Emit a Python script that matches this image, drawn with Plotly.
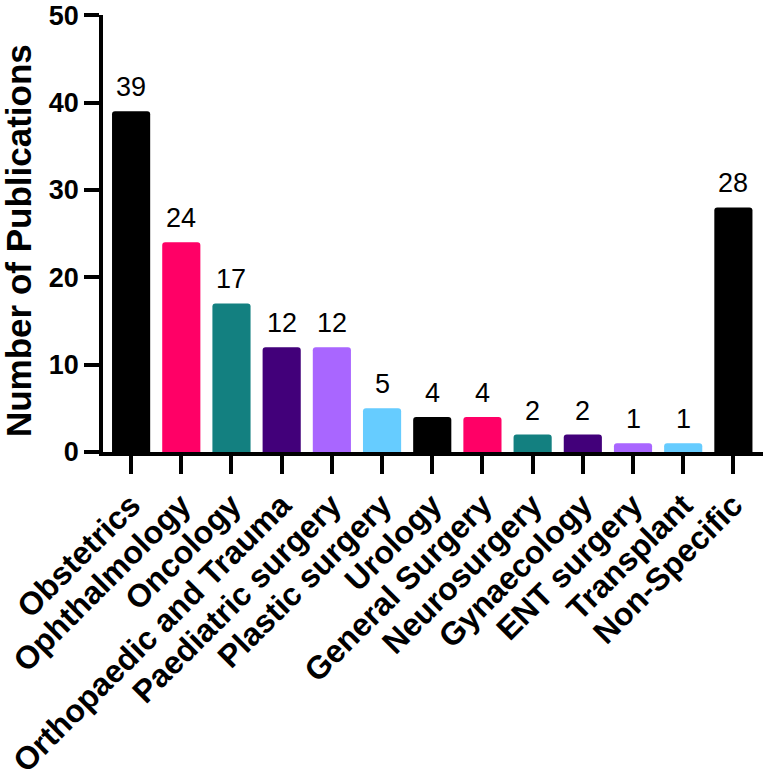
import plotly.graph_objects as go

categories = ["Obstetrics", "Ophthalmology", "Oncology", "Orthopaedic and Trauma",
              "Paediatric surgery", "Plastic surgery", "Urology", "General Surgery",
              "Neurosurgery", "Gynaecology", "ENT surgery", "Transplant", "Non-Specific"]
values = [39, 24, 17, 12, 12, 5, 4, 4, 2, 2, 1, 1, 28]
colors = ["#000000", "#FF0066", "#138080", "#42007A", "#A966FF", "#66CCFF",
          "#000000", "#FF0066", "#138080", "#42007A", "#A966FF", "#66CCFF", "#000000"]
y_ticks = [0, 10, 20, 30, 40, 50]
y_title = "Number of Publications"

FONT = "Arial, 'Liberation Sans', sans-serif"

fig = go.Figure()
fig.add_trace(go.Bar(
    x=list(range(len(categories))), y=values,
    marker=dict(color=colors, line=dict(width=0), cornerradius=3),
    width=0.76,
))

for i, v in enumerate(values):
    fig.add_annotation(x=i, y=v, text=str(v), showarrow=False, yanchor="bottom",
                       yshift=7, font=dict(family=FONT, size=27, color="black"))

# y-axis title as rotated annotation
fig.add_annotation(xref="paper", yref="paper", x=-0.1288, y=0.485, text=f"<b>{y_title}</b>",
                   textangle=-90, showarrow=False, xanchor="center", yanchor="middle",
                   font=dict(family=FONT, size=35, color="black"))

fig.update_layout(
    width=765, height=774,
    margin=dict(l=103, r=2, t=15, b=322, autoexpand=False),
    plot_bgcolor="white", paper_bgcolor="white",
    showlegend=False,
    font=dict(family=FONT, color="black"),
)
fig.update_xaxes(
    range=[-0.56, 12.59],
    tickmode="array", tickvals=list(range(len(categories))),
    ticktext=[f"<b>{c}</b>" for c in categories],
    tickangle=-45,
    tickfont=dict(family=FONT, size=32, color="black"),
    ticklabeloverflow="allow", automargin=False,
    showline=True, linecolor="black", linewidth=3.5,
    ticks="outside", ticklen=18, tickwidth=3.5, tickcolor="black",
    showgrid=False, zeroline=False,
)
fig.update_yaxes(
    range=[0, 50.02],
    tickmode="array", tickvals=y_ticks,
    ticktext=[f"<b>{t}</b>" for t in y_ticks],
    tickfont=dict(family=FONT, size=27, color="black"),
    ticklabeloverflow="allow", automargin=False,
    showline=True, linecolor="black", linewidth=3.5,
    ticks="outside", ticklen=15, tickwidth=3.5, tickcolor="black",
    showgrid=False, zeroline=False,
)

fig.write_html("out.html", config={"displayModeBar": False},
               post_script="document.body.style.margin='0';")
